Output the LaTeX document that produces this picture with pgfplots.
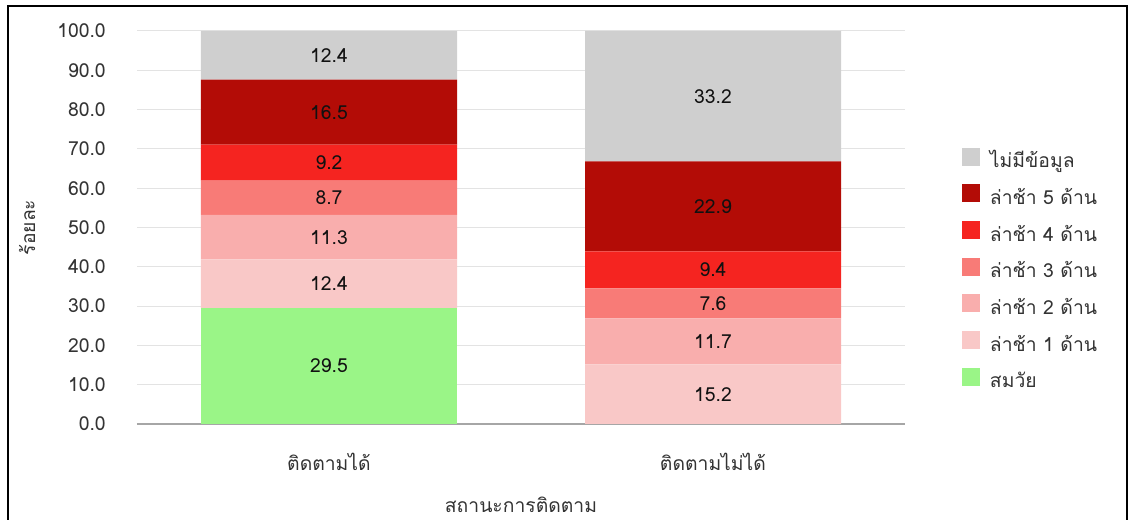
\documentclass[border=0pt]{standalone}
\usepackage{fontspec}
\setmainfont[Script=Thai]{Loma}
\usepackage{pgfplots}
\pgfplotsset{compat=1.18}
\definecolor{cNone}{HTML}{CFCFCF}
\definecolor{cD5}{HTML}{B30C06}
\definecolor{cD4}{HTML}{F52420}
\definecolor{cD3}{HTML}{F87B77}
\definecolor{cD2}{HTML}{F9AEAD}
\definecolor{cD1}{HTML}{F9C8C7}
\definecolor{cOk}{HTML}{9AF587}
\definecolor{gridc}{HTML}{E3E3E3}
\definecolor{axisc}{HTML}{A6A6A6}
\definecolor{tickc}{HTML}{333333}
\definecolor{valc}{HTML}{111111}
\newcommand{\chf}{\fontsize{14.5}{16}\selectfont}
\begin{document}
\begin{tikzpicture}
\useasboundingbox (0,0) rectangle (849pt,390pt);
\draw[line width=1.5pt, black] (6pt,-10pt) rectangle (845.25pt,385.5pt);
\begin{axis}[at={(102.75pt,72pt)}, anchor=south west, scale only axis,
 width=576pt, height=294.75pt,
 ybar stacked, bar width=192pt,
 xmin=-0.5, xmax=1.5, ymin=0, ymax=100,
 xtick={0,1}, xticklabels={ติดตามได้,ติดตามไม่ได้},
 ytick={0,10,...,100},
 ymajorgrids, grid style={draw=gridc, line width=0.75pt},
 major tick length=0pt,
 axis x line*=bottom, axis y line*=left,
 x axis line style={draw=axisc, line width=1.1pt, -},
 y axis line style={draw=none},
 /pgf/number format/assume math mode=true,
 yticklabel style={anchor=east, inner sep=0pt, xshift=-23.25pt, text=tickc, font=\chf,
   /pgf/number format/fixed, /pgf/number format/fixed zerofill, /pgf/number format/precision=1},
 xticklabel style={anchor=center, yshift=-28.5pt, text=tickc, font=\chf},
 ylabel={ร้อยละ},
 ylabel style={at={(axis description cs:-0.143,0.5)}, anchor=center, font=\chf, text=tickc},
 xlabel={สถานะการติดตาม},
 xlabel style={at={(axis description cs:0.5,0)}, anchor=center, yshift=-60.75pt, font=\chf, text=tickc},
 legend style={at={(axis description cs:1.0742,0.7031)}, anchor=north west, draw=none, fill=none,
   inner sep=0pt, outer sep=0pt, row sep=9.5pt, column sep=7.5pt,
   nodes={inner sep=0pt, text height=13pt, text depth=3pt, font=\chf, text=tickc}},
 legend cell align=left,
 legend image code/.code={\fill[#1] (0pt,-3.5pt) rectangle (13.5pt,10pt);},
 reverse legend,
]
\addplot[fill=cOk, draw=none] coordinates {(0,29.5) (1,0)};
\addlegendentry{สมวัย}
\addplot[fill=cD1, draw=none] coordinates {(0,12.4) (1,15.2)};
\addlegendentry{ล่าช้า 1 ด้าน}
\addplot[fill=cD2, draw=none] coordinates {(0,11.3) (1,11.7)};
\addlegendentry{ล่าช้า 2 ด้าน}
\addplot[fill=cD3, draw=none] coordinates {(0,8.7) (1,7.6)};
\addlegendentry{ล่าช้า 3 ด้าน}
\addplot[fill=cD4, draw=none] coordinates {(0,9.2) (1,9.4)};
\addlegendentry{ล่าช้า 4 ด้าน}
\addplot[fill=cD5, draw=none] coordinates {(0,16.5) (1,22.9)};
\addlegendentry{ล่าช้า 5 ด้าน}
\addplot[fill=cNone, draw=none] coordinates {(0,12.4) (1,33.2)};
\addlegendentry{ไม่มีข้อมูล}
\end{axis}
\begin{axis}[at={(102.75pt,72pt)}, anchor=south west, scale only axis,
 width=576pt, height=294.75pt, hide axis,
 xmin=-0.5, xmax=1.5, ymin=0, ymax=100]
\addplot[draw=none, nodes near coords, point meta=explicit symbolic,
  every node near coord/.style={anchor=center, inner sep=0pt, font=\chf, text=valc}]
  table[meta=lab] {
x y lab
0 14.75 29.5
0 35.7 12.4
0 47.55 11.3
0 57.55 8.7
0 66.5 9.2
0 79.35 16.5
0 93.8 12.4
1 7.6 15.2
1 21.05 11.7
1 30.7 7.6
1 39.2 9.4
1 55.35 22.9
1 83.4 33.2
};
\end{axis}
\end{tikzpicture}
\end{document}
